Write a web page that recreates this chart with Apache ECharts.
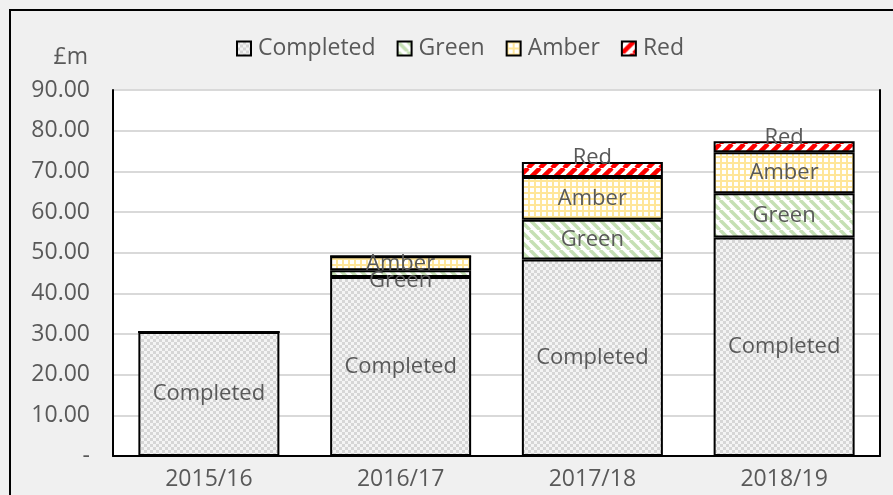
<!DOCTYPE html>
<html>
<head>
<meta charset="utf-8">
<script src="https://cdn.jsdelivr.net/npm/echarts@6/dist/echarts.min.js"></script>
<style>
  html, body { margin: 0; padding: 0; background: #f0f0f0; }
  #chart { width: 893px; height: 495px; }
</style>
</head>
<body>
<div id="chart"></div>
<script>
// data (£m)
var categories = ["2015/16", "2016/17", "2017/18", "2018/19"];
var completed = [30.5, 44.0, 48.3, 53.7];
var green = [0, 1.7, 9.8, 10.9];
var amber = [0, 3.4, 10.5, 10.1];
var red = [0, 0, 3.7, 2.7];
var yTicks = [0, 10, 20, 30, 40, 50, 60, 70, 80, 90];

var textGrey = "#595959";
var font = "'Open Sans', 'Noto Sans', sans-serif";

// small canvas tiles used as fill patterns
function tile(size, draw) {
  var c = document.createElement("canvas");
  c.width = size;
  c.height = size;
  var ctx = c.getContext("2d");
  ctx.fillStyle = "#ffffff";
  ctx.fillRect(0, 0, size, size);
  draw(ctx, size);
  return { image: c, repeat: "repeat" };
}

var checkFill = tile(6, function(ctx) {
  ctx.fillStyle = "#f4f4f4";
  ctx.fillRect(0, 0, 6, 6);
  ctx.fillStyle = "#d6d6d6";
  ctx.fillRect(0, 0, 3, 3);
  ctx.fillRect(3, 3, 3, 3);
});
var greenFill = tile(10, function(ctx, s) {
  ctx.strokeStyle = "#c5e0b4";
  ctx.lineWidth = 3.5;
  [-s, 0, s].forEach(function(k) {
    ctx.beginPath();
    ctx.moveTo(k, 0);
    ctx.lineTo(k + s, s);
    ctx.stroke();
  });
});
var amberFill = tile(6, function(ctx) {
  ctx.fillStyle = "#ffe699";
  ctx.fillRect(0, 0, 6, 2);
  ctx.fillRect(0, 0, 2, 6);
});
var redFill = tile(12, function(ctx, s) {
  ctx.strokeStyle = "#ff0000";
  ctx.lineWidth = 4.5;
  [-s, 0, s].forEach(function(k) {
    ctx.beginPath();
    ctx.moveTo(k, s);
    ctx.lineTo(k + s, 0);
    ctx.stroke();
  });
});

function hideZero(p) {
  return p.value ? p.seriesName : "";
}

function barSeries(name, values, fill, extra) {
  var s = {
    name: name,
    type: "bar",
    stack: "total",
    barWidth: 141,
    data: values,
    itemStyle: { color: fill, borderColor: "#000", borderWidth: 2 },
    label: {
      show: true,
      position: "inside",
      formatter: hideZero,
      color: textGrey,
      fontSize: 22,
      fontFamily: font
    },
    emphasis: { disabled: true }
  };
  if (extra) extra(s);
  return s;
}

var chart = echarts.init(document.getElementById("chart"));
var option = {
  backgroundColor: "#f0f0f0",
  animation: false,
  textStyle: { fontFamily: font },
  graphic: [
    {
      type: "rect",
      shape: { x: 10, y: 10, width: 1000, height: 1000 },
      style: { fill: "none", stroke: "#000", lineWidth: 2 },
      silent: true
    }
  ],
  legend: {
    top: 32,
    left: 231,
    itemWidth: 14,
    itemHeight: 14,
    itemGap: 21,
    icon: "rect",
    textStyle: { color: textGrey, fontSize: 23, fontFamily: font, padding: [0, 0, 0, 2] },
    data: ["Completed", "Green", "Amber", "Red"]
  },
  grid: {
    left: 113,
    right: 13,
    top: 90,
    bottom: 39,
    show: true,
    backgroundColor: "#ffffff",
    borderWidth: 0
  },
  xAxis: {
    type: "category",
    data: categories,
    axisLine: { lineStyle: { color: "#000", width: 2 } },
    axisTick: { show: false },
    axisLabel: { color: textGrey, fontSize: 23, fontFamily: font, margin: 12 }
  },
  yAxis: [
    {
      type: "value",
      min: yTicks[0],
      max: yTicks[yTicks.length - 1],
      interval: 10,
      name: "£m",
      nameLocation: "end",
      nameGap: 33,
      nameTextStyle: {
        color: textGrey,
        fontSize: 23,
        fontFamily: font,
        align: "right",
        verticalAlign: "middle",
        padding: [0, 25, 0, 0]
      },
      axisLine: { show: true, lineStyle: { color: "#000", width: 2 } },
      axisTick: { show: false },
      splitLine: { lineStyle: { color: "#d9d9d9", width: 2 } },
      axisLabel: {
        color: textGrey,
        fontSize: 23,
        fontFamily: font,
        margin: 23,
        formatter: function(v) {
          return v === 0 ? "-" : v.toFixed(2);
        }
      }
    },
    {
      type: "value",
      position: "right",
      min: yTicks[0],
      max: yTicks[yTicks.length - 1],
      axisLine: { show: true, lineStyle: { color: "#000", width: 2 } },
      axisTick: { show: false },
      axisLabel: { show: false },
      splitLine: { show: false }
    }
  ],
  series: [
    barSeries("Completed", completed, checkFill),
    barSeries("Green", green, greenFill, function(s) {
      // Excel pushes the thin 2016/17 label down below its segment
      s.data = green.map(function(v, i) {
        return i === 1 ? { value: v, label: { offset: [0, 7] } } : v;
      });
    }),
    barSeries("Amber", amber, amberFill),
    barSeries("Red", red, redFill, function(s) {
      s.label.position = ["50%", 0];
      s.label.align = "center";
      s.label.verticalAlign = "middle";
      s.label.offset = [0, -4];
    })
  ]
};
chart.setOption(option);
</script>
</body>
</html>
